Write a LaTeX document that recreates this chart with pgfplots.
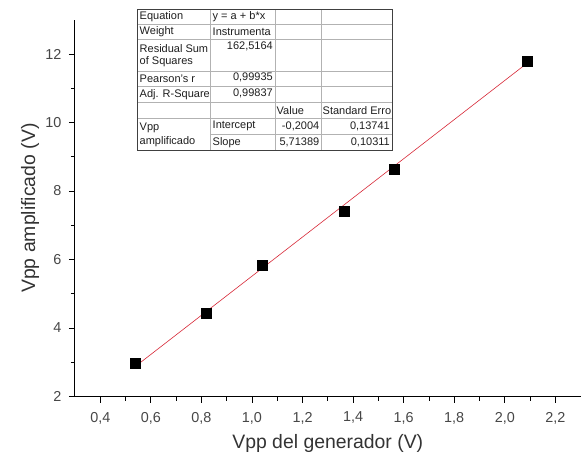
\documentclass[border=0pt]{standalone}
\usepackage{pgfplots}
\pgfplotsset{compat=1.18}
\usepackage{fontspec}
\setmainfont{Liberation Sans}
\definecolor{fitred}{RGB}{215,40,55}
\begin{document}
\begin{tikzpicture}[x=1pt,y=1pt]
\useasboundingbox (0,0) rectangle (584,459);
\begin{axis}[
  at={(75pt,62.5pt)}, anchor=south west,
  scale only axis, width=505.6pt, height=376.75pt,
  xmin=0.3, xmax=2.3, ymin=2, ymax=13,
  axis lines*=left,
  axis line style={black, line width=1pt},
  xtick={0.4,0.6,0.8,1.0,1.2,1.4,1.6,1.8,2.0,2.2},
  ytick={2,4,6,8,10,12},
  minor x tick num=1, minor y tick num=1,
  tick align=outside,
  major tick length=6pt, minor tick length=4pt,
  tick style={black, line width=0.8pt},
  /pgf/number format/assume math mode=true,
  xticklabel style={yshift=-6pt, /pgf/number format/.cd, fixed, fixed zerofill, precision=1, use comma},
  yticklabel style={xshift=-4pt, /pgf/number format/.cd, fixed, precision=0},
  tick label style={font=\fontsize{14.4}{16}\selectfont, text=black!72},
  xlabel={Vpp del generador (V)},
  ylabel={Vpp amplificado (V)},
  label style={font=\fontsize{19.4}{22}\selectfont, text=black!80},
  xlabel style={at={(axis description cs:0.5,-0.126)}, anchor=center},
  ylabel style={at={(axis description cs:-0.089,0.5)}, anchor=center},
  clip=false,
]
\addplot[fitred, line width=0.6pt] coordinates {(0.537,2.868) (2.088,11.730)};
\addplot[only marks, mark=square*, mark size=5pt, mark options={fill=black, draw=black}]
  coordinates {(0.537,2.97) (0.818,4.43) (1.042,5.83) (1.364,7.40) (1.564,8.64) (2.088,11.80)};
\end{axis}
\begin{scope}[yshift=459pt, x=1pt, y=-1pt]
  \fill[white] (137,9.5) rectangle (392,150);
  \begin{scope}[draw=black!30, line width=0.5pt]
    \draw (137,24) -- (392,24);
    \draw (137,39.5) -- (392,39.5);
    \draw (137,71.5) -- (392,71.5);
    \draw (137,86.5) -- (392,86.5);
    \draw (137,102.5) -- (392,102.5);
    \draw (137,118) -- (392,118);
    \draw (210.7,134.5) -- (392,134.5);
    \draw (210.7,9.5) -- (210.7,150);
    \draw (275,9.5) -- (275,150);
    \draw (321,9.5) -- (321,150);
  \end{scope}
  \draw[black!75, line width=0.8pt] (137,9.5) rectangle (392,150);
  \begin{scope}[every node/.style={font=\fontsize{11}{12.5}\selectfont, text=black!88, inner sep=0pt}]
    \node[anchor=west] at (139.5,16.8) {Equation};
    \node[anchor=west] at (212.5,16.8) {y = a + b*x};
    \node[anchor=west] at (139.5,31.8) {Weight};
    \node[anchor=west] at (212.5,31.8) {Instrumenta};
    \node[anchor=west] at (139.5,48.5) {Residual Sum};
    \node[anchor=west] at (139.5,62) {of Squares};
    \node[anchor=east] at (273,46.5) {162,5164};
    \node[anchor=west] at (139.5,79) {Pearson's r};
    \node[anchor=east] at (273,77.5) {0,99935};
    \node[anchor=west] at (139.5,94.5) {Adj. R-Square};
    \node[anchor=east] at (273,93) {0,99837};
    \node[anchor=west] at (276.5,110.3) {Value};
    \node[anchor=west] at (322.5,110.3) {Standard Erro};
    \node[anchor=west] at (139.5,127.5) {Vpp};
    \node[anchor=west] at (139.5,142) {amplificado};
    \node[anchor=west] at (212.5,126.3) {Intercept};
    \node[anchor=east] at (319.5,126.3) {-0,2004};
    \node[anchor=east] at (390,126.3) {0,13741};
    \node[anchor=west] at (212.5,142.3) {Slope};
    \node[anchor=east] at (319.5,142.3) {5,71389};
    \node[anchor=east] at (390,142.3) {0,10311};
  \end{scope}
\end{scope}
\end{tikzpicture}
\end{document}
